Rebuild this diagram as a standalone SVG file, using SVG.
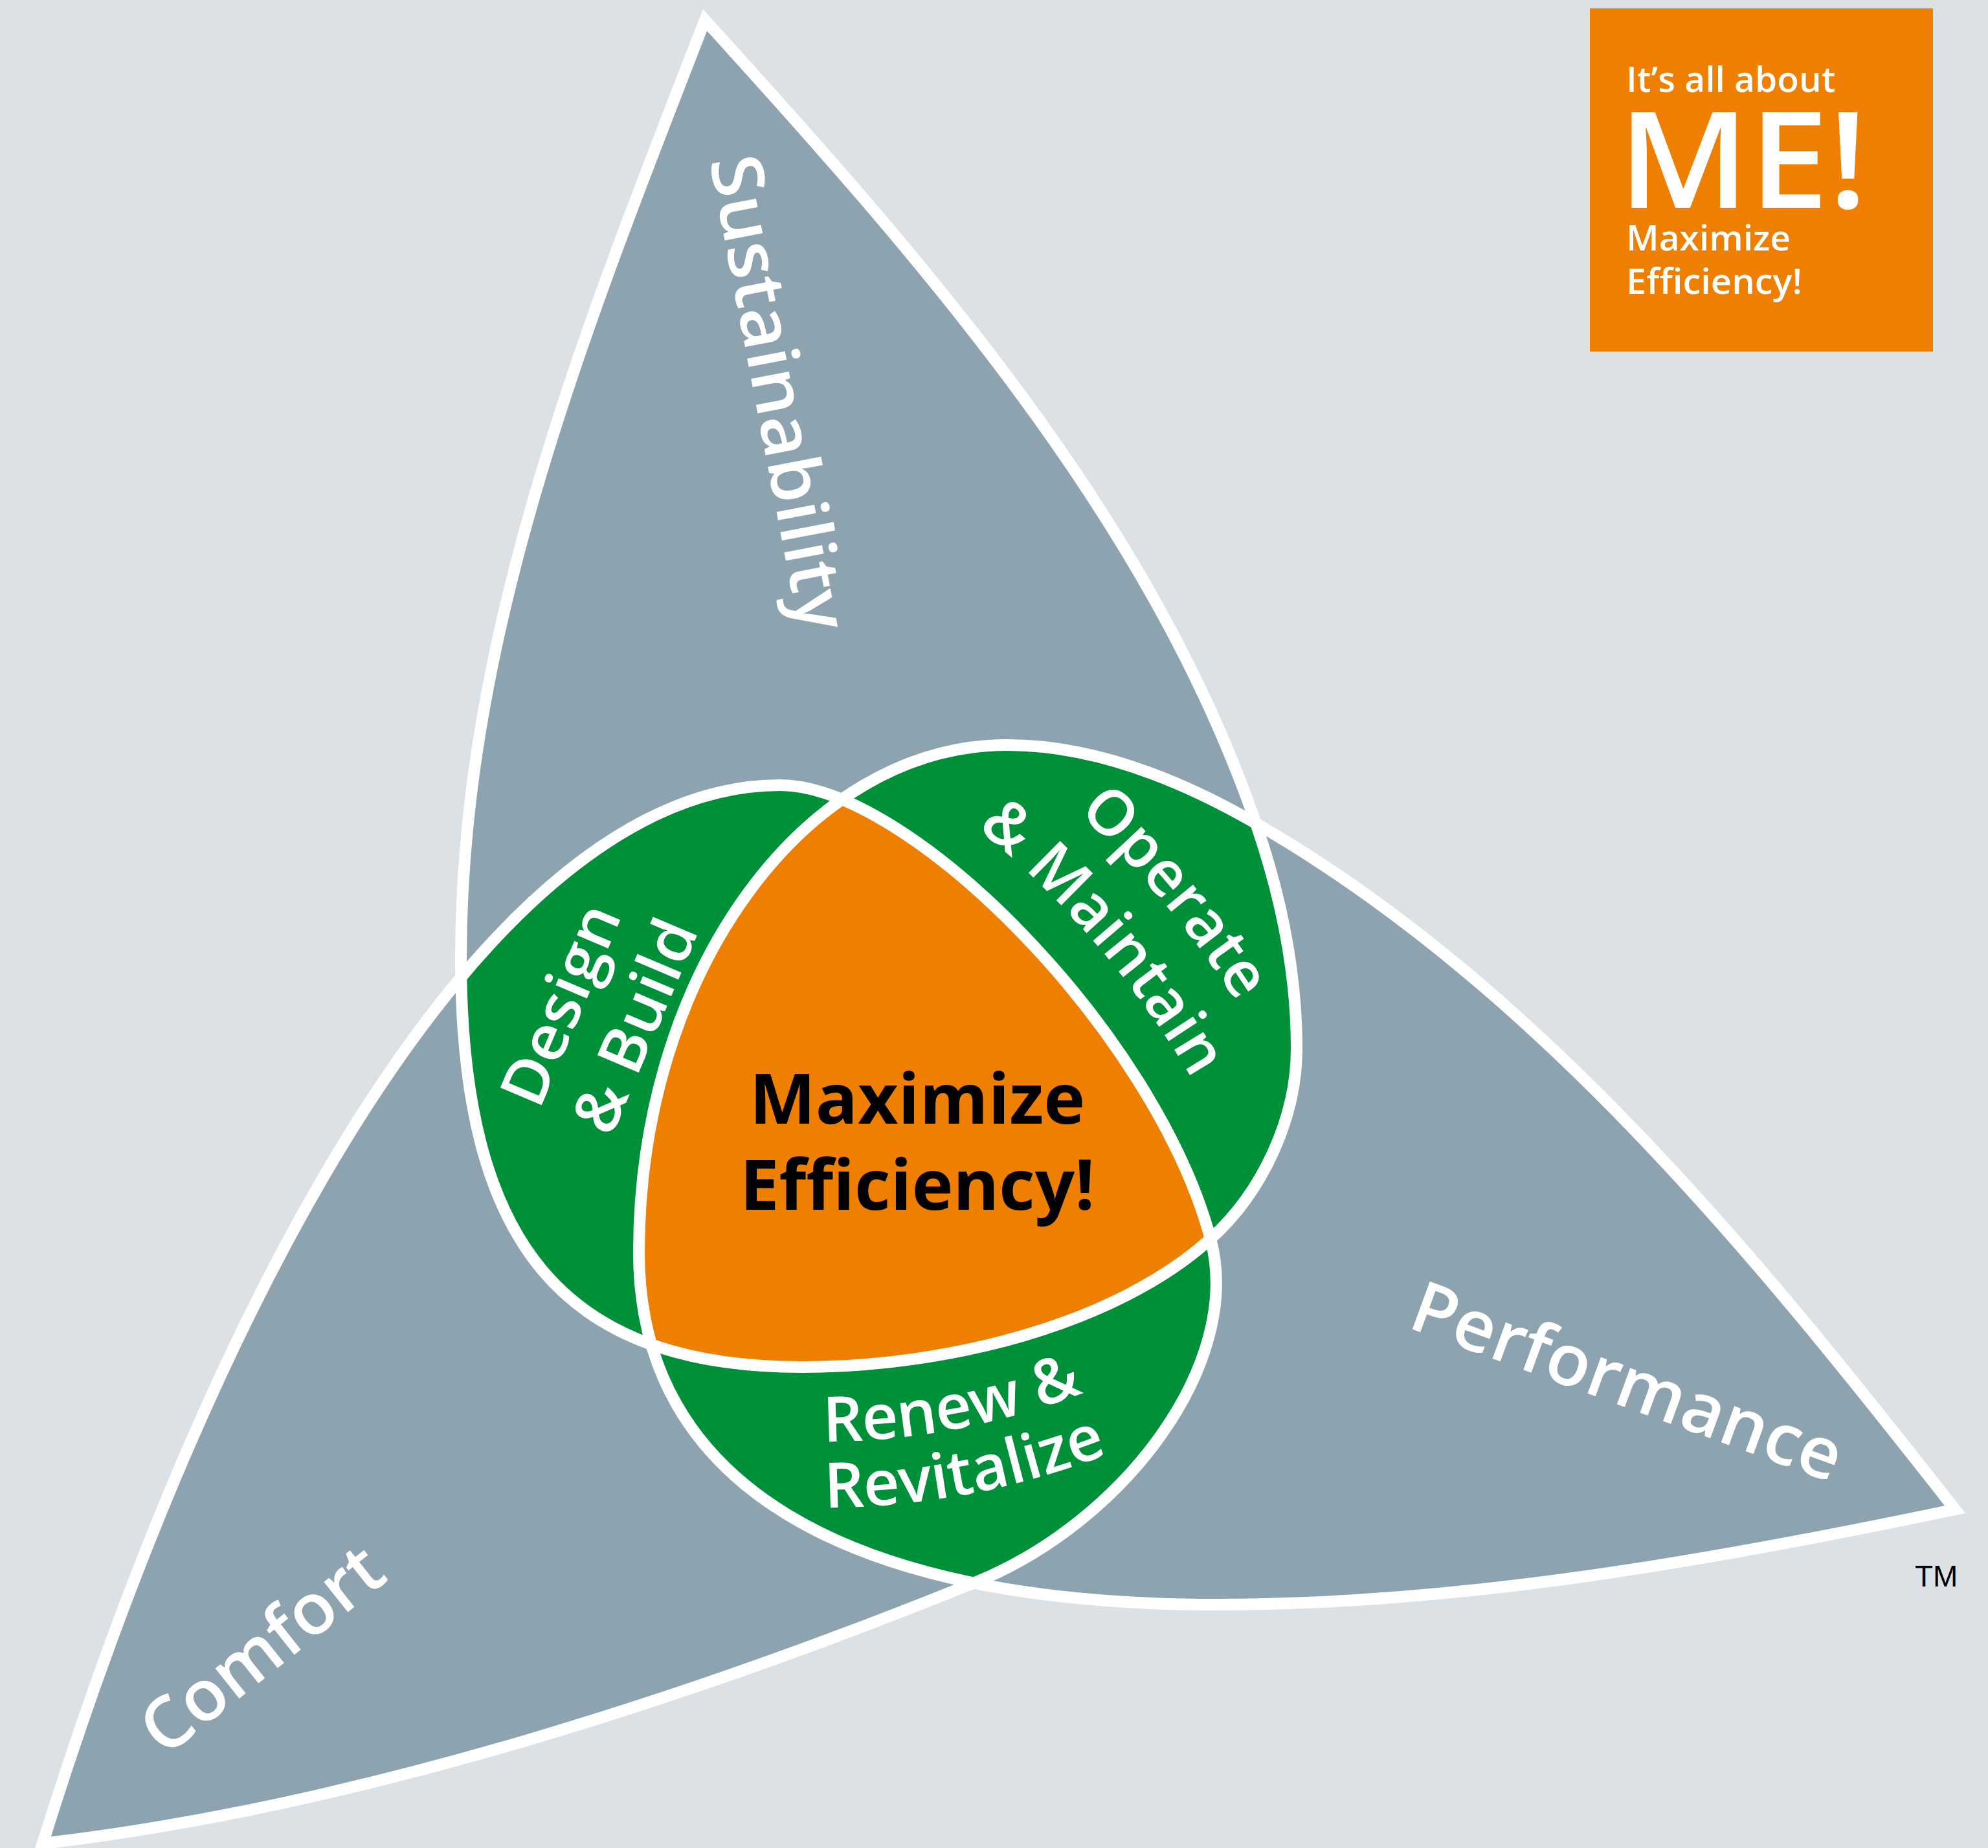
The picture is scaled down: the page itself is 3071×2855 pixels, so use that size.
<svg xmlns="http://www.w3.org/2000/svg" width="3071" height="2855" viewBox="0 0 3071 2855">
<style>
.bg{fill:#DCE1E5}
.petal{fill:#8DA3AF}
.green{fill:#009039}
.orange{fill:#EE7F00}
.line{fill:none;stroke:#FFFFFF;stroke-width:18;stroke-linejoin:miter;stroke-miterlimit:10}
.lbl{font-family:"Open Sans","Noto Sans",sans-serif;font-weight:600;fill:#FFFFFF}
.big{font-size:110px}
.mid{font-size:97px}
.ctr{font-family:"Open Sans","Noto Sans",sans-serif;font-weight:bold;font-size:108px;fill:#000000;text-anchor:middle}
.box{font-family:"Open Sans","Noto Sans",sans-serif;font-weight:600;fill:#FFFFFF}
</style>
<defs>
<path id="pS" d="M1089,31 C1425,401 1777,799 1940,1272 C1978.5,1383.6 2003,1502 2003,1620 C2003,1728 1950,1842 1870,1914 C1721,2048 1460,2112 1240,2112 C870,2112 712,1922 712,1480 C712,980 908,497 1089,31 Z"/>
<path id="pC" d="M66,2848 C334,1988.5 755,1213 1205,1213 C1405,1213 1784.5,1595 1870,1914 C1922,2107 1735,2352 1508,2444 C1091,2613 562.5,2790.5 66,2848 Z"/>
<path id="pP" d="M3020,2332 C2648,2410 2260,2479 1880,2479 C1299.5,2479 987,2288.6 987,1935 C987,1504 1243,1151 1556,1151 C1691,1151 1823,1204.5 1940,1272 C2373,1522 2712,1938 3020,2332 Z"/>
<clipPath id="clipC"><use href="#pC"/></clipPath>
<clipPath id="clipP"><use href="#pP"/></clipPath>
<path id="arcOperate" d="M1664.7,1254 A1545,1545 0 0 1 2103.4,1984.1"/>
<path id="arcMaintain" d="M1509,1279 A1424,1424 0 0 1 1986.5,2015.4"/>
<path id="arcRenew" d="M1272,2227 A1117,1117 0 0 0 2059.8,1899.8"/>
<path id="arcRevitalize" d="M1274,2329 A1219,1219 0 0 0 2132,1972"/>
</defs>
<rect class="bg" x="0" y="0" width="3071" height="2855"/>
<g id="petals">
<use href="#pS" class="petal"/>
<use href="#pC" class="petal"/>
<use href="#pP" class="petal"/>
</g>
<g id="overlaps">
<g id="design-build" clip-path="url(#clipC)"><use href="#pS" class="green"/></g>
<g id="operate-maintain" clip-path="url(#clipP)"><use href="#pS" class="green"/></g>
<g id="renew-revitalize" clip-path="url(#clipP)"><use href="#pC" class="green"/></g>
<g id="maximize-efficiency" clip-path="url(#clipC)"><g clip-path="url(#clipP)"><use href="#pS" class="orange"/></g></g>
</g>
<g id="outlines">
<use href="#pS" class="line"/>
<use href="#pC" class="line"/>
<use href="#pP" class="line"/>
</g>
<g id="label-sustainability"><text class="lbl big" transform="translate(1096,248) rotate(79.2)" textLength="745" lengthAdjust="spacingAndGlyphs">Sustainability</text></g>
<g id="label-performance"><text class="lbl big" transform="translate(2172,2050) rotate(20.1)" textLength="700" lengthAdjust="spacingAndGlyphs">Performance</text></g>
<g id="label-comfort"><text class="lbl big" transform="translate(254,2716) rotate(-38.5)" textLength="445" lengthAdjust="spacingAndGlyphs">Comfort</text></g>
<g id="label-design-build">
<text class="lbl mid" transform="translate(833,1716) rotate(-67)" textLength="328" lengthAdjust="spacingAndGlyphs">Design</text>
<text class="lbl mid" transform="translate(944,1758) rotate(-67)" textLength="348" lengthAdjust="spacingAndGlyphs">&amp; Build</text>
</g>
<g id="label-operate-maintain">
<text class="lbl mid"><textPath href="#arcOperate">Operate</textPath></text>
<text class="lbl mid"><textPath href="#arcMaintain">&amp; Maintain</textPath></text>
</g>
<g id="label-renew-revitalize">
<text class="lbl mid"><textPath href="#arcRenew">Renew &amp;</textPath></text>
<text class="lbl mid"><textPath href="#arcRevitalize">Revitalize</textPath></text>
</g>
<g id="label-center">
<text class="ctr" x="1417" y="1736">Maximize</text>
<text class="ctr" x="1417" y="1869">Efficiency!</text>
</g>
<g id="badge">
<rect class="orange" x="2456" y="13" width="530" height="530"/>
<text class="box" x="2512" y="142" font-size="55">It’s all about</text>
<text class="box" x="2500" y="321" font-size="207" textLength="385" lengthAdjust="spacingAndGlyphs">ME!</text>
<text class="box" x="2512" y="387" font-size="55">Maximize</text>
<text class="box" x="2512" y="454" font-size="55" textLength="272" lengthAdjust="spacingAndGlyphs">Efficiency!</text>
</g>
<g id="trademark"><text x="2958" y="2451" font-family="Liberation Sans, Arial, sans-serif" font-size="46" fill="#000000">TM</text></g>
</svg>
